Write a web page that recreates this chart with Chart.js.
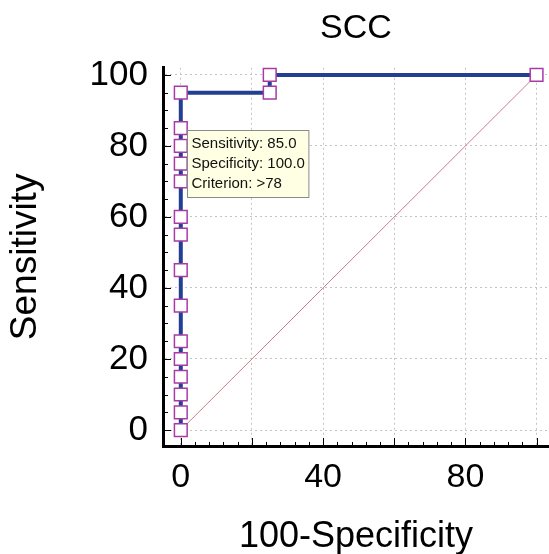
<!DOCTYPE html>
<html>
<head>
<meta charset="utf-8">
<script src="https://cdn.jsdelivr.net/npm/chart.js@4.4.1/dist/chart.umd.min.js"></script>
<style>
  html, body { margin: 0; padding: 0; background: #fff; }
  #wrap { width: 549px; height: 554px; }
</style>
</head>
<body>
<div id="wrap"><canvas id="roc" width="549" height="554"></canvas></div>
<script>
// ROC curve values (100-Specificity, Sensitivity)
const falsePos = [0, 0, 0, 0, 0, 0, 0, 0, 0, 0, 0, 0, 0, 0, 0, 25, 25, 100];
const sensitivity = [0, 5, 10, 15, 20, 25, 35, 45, 55, 60, 70, 75, 80, 85, 95, 95, 100, 100];
const diagX = [0, 100];
const diagY = [0, 100];
const xTickValues = [0, 20, 40, 60, 80, 100];
const xTickLabels = ['0', '', '40', '', '80', ''];
const yTickValues = [0, 20, 40, 60, 80, 100];
const yTickLabels = ['0', '20', '40', '60', '80', '100'];
const tipPoint = { x: 0, y: 85 };
const tipLines = ['Sensitivity: 85.0', 'Specificity: 100.0', 'Criterion: >78'];

const FONT = "'Liberation Sans', Arial, sans-serif";

const rocPoints = falsePos.map((x, i) => ({ x: x, y: sensitivity[i] }));
const diagPoints = diagX.map((x, i) => ({ x: x, y: diagY[i] }));

// small ticks drawn inside the plot, along both axes
const innerTicks = {
    id: 'innerTicks',
    beforeDatasetsDraw(chart) {
        const { ctx, chartArea, scales } = chart;
        ctx.save();
        ctx.strokeStyle = '#000';
        ctx.lineWidth = 1;
        for (let v = 0; v <= 100; v += 4) {
            const px = Math.round(scales.x.getPixelForValue(v)) + 0.5;
            const len = v % 20 === 0 ? 8 : 4;
            ctx.beginPath();
            ctx.moveTo(px, chartArea.bottom);
            ctx.lineTo(px, chartArea.bottom - len);
            ctx.stroke();
        }
        for (let v = 0; v <= 100; v += 5) {
            const py = Math.round(scales.y.getPixelForValue(v)) + 0.5;
            const len = v % 20 === 0 ? 8 : 5;
            ctx.beginPath();
            ctx.moveTo(chartArea.left, py);
            ctx.lineTo(chartArea.left + len, py);
            ctx.stroke();
        }
        ctx.restore();
    }
};

// the fixed yellow note next to the criterion point
const criterionNote = {
    id: 'criterionNote',
    afterDatasetsDraw(chart) {
        const { ctx, scales } = chart;
        const px = scales.x.getPixelForValue(tipPoint.x);
        const py = scales.y.getPixelForValue(tipPoint.y);
        ctx.save();
        ctx.font = '15px ' + FONT;
        const w = Math.max(...tipLines.map(t => ctx.measureText(t).width)) + 8;
        const h = tipLines.length * 20 + 7;
        const bx = Math.round(px + 6) + 0.5;
        const by = Math.round(py + 2) + 0.5;
        ctx.fillStyle = '#ffffe4';
        ctx.strokeStyle = '#8a8a8a';
        ctx.lineWidth = 1;
        ctx.fillRect(bx, by, w, h);
        ctx.strokeRect(bx, by, w, h);
        ctx.fillStyle = '#111';
        ctx.textBaseline = 'middle';
        tipLines.forEach((t, i) => ctx.fillText(t, bx + 4, by + 13 + i * 20));
        ctx.restore();
    }
};

new Chart(document.getElementById('roc'), {
    type: 'line',
    data: {
        datasets: [
            {
                data: rocPoints,
                borderColor: '#223f93',
                borderWidth: 4,
                pointStyle: 'rect',
                pointRadius: 9,
                pointBorderWidth: 1.5,
                pointBorderColor: '#a83aa8',
                pointBackgroundColor: '#ffffff',
                tension: 0,
                clip: false,
                order: 1
            },
            {
                data: diagPoints,
                borderColor: '#cc7d8c',
                borderWidth: 1,
                pointRadius: 0,
                tension: 0,
                order: 2
            }
        ]
    },
    options: {
        responsive: false,
        animation: false,
        events: [],
        layout: { padding: 0, autoPadding: false },
        plugins: {
            legend: { display: false },
            tooltip: { enabled: false },
            title: {
                display: true,
                text: 'SCC',
                fullSize: false,
                color: '#000',
                font: { family: FONT, size: 34, weight: 'normal' },
                padding: { top: 8, bottom: 19 }
            }
        },
        scales: {
            x: {
                type: 'linear',
                min: -5,
                max: 103.5,
                afterBuildTicks: s => { s.ticks = xTickValues.map(v => ({ value: v })); },
                afterFit: s => { s.height = 108; s.paddingRight = 0; },
                ticks: {
                    color: '#000',
                    padding: 11,
                    maxRotation: 0,
                    autoSkip: false,
                    font: { family: FONT, size: 34 },
                    callback: (v, i) => xTickLabels[i]
                },
                grid: { color: '#c4c4c4', lineWidth: 1, drawTicks: false },
                border: { color: '#000', width: 3, dash: [2, 3] },
                title: {
                    display: true,
                    text: '100-Specificity',
                    color: '#000',
                    font: { family: FONT, size: 36 },
                    padding: { top: 0, bottom: -5 }
                }
            },
            y: {
                type: 'linear',
                min: -4.5,
                max: 102,
                afterBuildTicks: s => { s.ticks = yTickValues.map(v => ({ value: v })); },
                afterFit: s => { s.width = 163; },
                ticks: {
                    color: '#000',
                    padding: 15,
                    autoSkip: false,
                    font: { family: FONT, size: 35 },
                    callback: (v, i) => yTickLabels[i]
                },
                grid: { color: '#c4c4c4', lineWidth: 1, drawTicks: false },
                border: { color: '#000', width: 3, dash: [2, 3] },
                title: {
                    display: true,
                    text: 'Sensitivity',
                    color: '#000',
                    font: { family: FONT, size: 37 },
                    padding: { top: 4, bottom: 0 }
                }
            }
        }
    },
    plugins: [innerTicks, criterionNote]
});
</script>
</body>
</html>
